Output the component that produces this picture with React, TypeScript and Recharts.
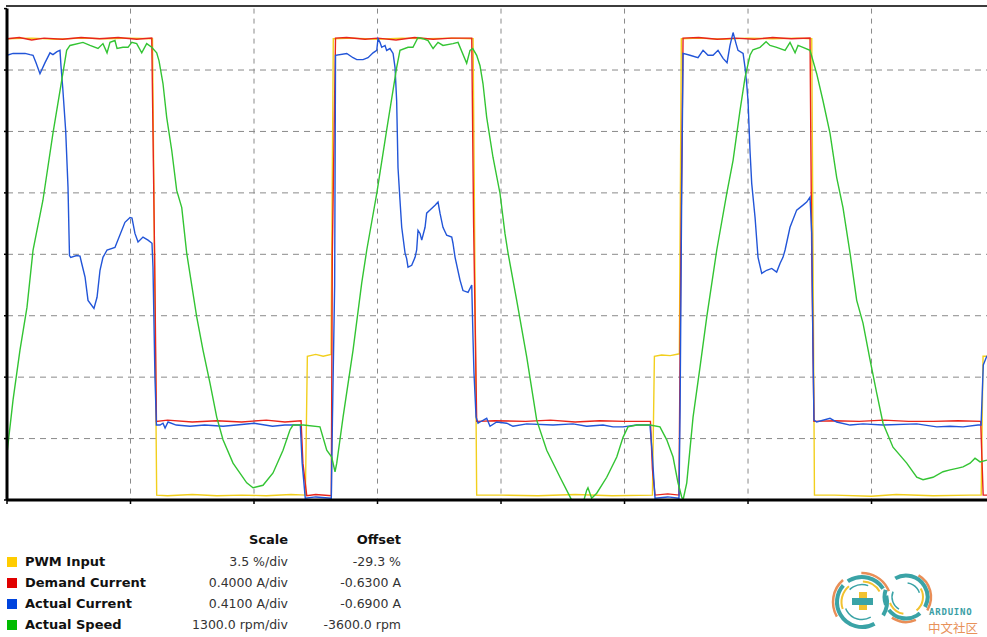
import React from 'react';
import { LineChart, Line, XAxis, YAxis, CartesianGrid } from 'recharts';

// time in 1/100 division units, value in divisions
const pwmInput: [number, number][] = [
  [0, 7.51], [20, 7.52], [40, 7.5], [60, 7.52], [80, 7.51], [100, 7.52], [117.8, 7.51],
  [121.2, 0.08], [130, 0.07], [150, 0.09], [170, 0.07], [190, 0.08], [210, 0.07], [230, 0.09], [241.6, 0.08],
  [243.2, 2.34], [250, 2.37], [256, 2.34], [262.4, 2.37],
  [264.2, 7.51], [280, 7.52], [300, 7.5], [320, 7.52], [340, 7.51], [360, 7.52], [377.4, 7.51],
  [380.3, 0.08], [400, 0.08], [430, 0.07], [460, 0.09], [490, 0.07], [522.6, 0.08],
  [524.2, 2.34], [530, 2.36], [537, 2.35], [544.4, 2.38],
  [546.0, 7.51], [560, 7.52], [580, 7.5], [600, 7.52], [620, 7.51], [640, 7.52], [651.6, 7.51],
  [653.8, 0.08], [670, 0.08], [700, 0.06], [720, 0.09], [750, 0.07], [780, 0.08], [788.8, 0.08],
  [790.3, 2.34], [793.5, 2.34],
];

const demandCurrent: [number, number][] = [
  [0, 7.51], [10, 7.53], [20, 7.49], [30, 7.52], [45, 7.5], [60, 7.53], [75, 7.51], [90, 7.53], [105, 7.5], [117.2, 7.52],
  [119.5, 4.0], [121.0, 1.28],
  [130, 1.3], [150, 1.27], [170, 1.29], [190, 1.27], [210, 1.3], [225, 1.27], [238.1, 1.29],
  [239.6, 0.6], [242.7, 0.07], [250, 0.09], [262.6, 0.07],
  [263.4, 4.0], [266.0, 7.52],
  [275, 7.53], [290, 7.5], [300, 7.52], [315, 7.49], [330, 7.53], [345, 7.5], [360, 7.52], [376.3, 7.52],
  [377.8, 4.5], [380.3, 1.28],
  [395, 1.29], [420, 1.28], [440, 1.3], [460, 1.27], [480, 1.29], [500, 1.28], [521.0, 1.28],
  [522.6, 0.5], [524.7, 0.08], [535, 0.1], [544.1, 0.08],
  [545.6, 4.0], [547.4, 7.52],
  [560, 7.53], [575, 7.5], [590, 7.52], [605, 7.5], [620, 7.53], [635, 7.51], [650.2, 7.52],
  [651.6, 4.0], [653.4, 1.28],
  [670, 1.29], [690, 1.28], [710, 1.3], [730, 1.28], [750, 1.28], [770, 1.29], [788.4, 1.28],
  [790.4, 0.08], [793.5, 0.08],
];

const actualCurrent: [number, number][] = [
  [0, 7.24], [4.9, 7.27], [14.6, 7.27], [18.6, 7.25], [21.1, 7.24], [23.5, 7.12], [26.7, 6.94], [30.8, 7.12],
  [34.8, 7.28], [37.2, 7.25], [40.5, 7.3], [42.9, 7.32], [43.7, 7.07], [45.1, 6.72], [47.5, 6.02], [49.4, 5.09],
  [50.2, 4.34], [50.6, 3.98], [51.6, 3.95], [56.4, 3.98], [59.1, 3.97], [60.5, 3.85], [63.2, 3.63], [65.6, 3.25],
  [70.4, 3.12], [72.9, 3.3], [75.3, 3.74], [77.7, 3.95], [81.0, 4.07], [87.4, 4.11], [95.5, 4.52], [99.6, 4.6],
  [101.2, 4.59], [103.6, 4.34], [106.1, 4.2], [110.1, 4.28], [114.2, 4.23], [117.4, 4.18], [118.2, 3.79], [119.8, 2.0],
  [121.0, 1.22], [123.9, 1.22], [126.3, 1.25], [128.0, 1.17], [130.4, 1.27], [137, 1.22], [148.2, 1.2], [160, 1.22],
  [175, 1.2], [190, 1.23], [200, 1.25], [215, 1.2], [225, 1.22], [237.5, 1.22], [239.0, 0.6], [241.5, 0.03],
  [250, 0.05], [262.6, 0.03], [263.5, 1.3], [265.3, 3.5], [266.0, 7.24], [275.1, 7.27], [280.2, 7.2], [283.2, 7.17],
  [288.3, 7.17], [292.3, 7.2], [296.4, 7.28], [299.4, 7.32], [300.4, 7.51], [302.0, 7.45], [303.4, 7.37], [306.1, 7.4],
  [307.4, 7.32], [310.1, 7.35], [312.6, 7.27], [314.2, 7.04], [315.5, 6.5], [316.6, 5.41], [318.2, 4.88], [319.6, 4.44],
  [322.3, 4.02], [323.6, 3.93], [324.7, 3.79], [327.7, 3.82], [330.4, 3.95], [331.7, 4.07], [332.8, 4.39], [334.4, 4.34],
  [335.8, 4.23], [338.5, 4.44], [339.8, 4.67], [342.5, 4.72], [346.6, 4.8], [349.0, 4.85], [350.6, 4.67], [353.0, 4.44],
  [356.0, 4.31], [360.1, 4.28], [361.1, 4.18], [362.8, 3.95], [366.8, 3.58], [369.2, 3.41], [373.3, 3.38], [376.3, 3.5],
  [377.3, 2.65], [378.1, 2.07], [379.8, 1.35], [381.4, 1.25], [383.0, 1.27], [388.4, 1.33], [391.1, 1.2], [396.5, 1.27],
  [404.6, 1.25], [409.7, 1.2], [420.8, 1.24], [442.1, 1.22], [458.3, 1.24], [469.4, 1.2], [482.6, 1.22], [490.7, 1.19],
  [498.8, 1.19], [509.9, 1.22], [520.6, 1.22], [522.3, 0.8], [524.7, 0.03], [535, 0.05], [544.1, 0.03], [545.0, 1.5],
  [546.3, 5.0], [547.4, 7.27], [553.0, 7.24], [559.5, 7.2], [563.6, 7.32], [567.6, 7.24], [571.7, 7.24], [575.7, 7.32],
  [579.8, 7.19], [583.0, 7.12], [585.4, 7.4], [587.9, 7.61], [590.3, 7.43], [591.9, 7.32], [596.0, 7.27], [597.6, 7.04],
  [598.9, 6.78], [600.0, 6.5], [601.6, 5.69], [603.0, 5.15], [605.7, 4.6], [608.1, 3.95], [611.1, 3.69], [615.1, 3.74],
  [619.2, 3.77], [623.2, 3.71], [625.9, 3.85], [628.3, 3.95], [630.0, 4.07], [634.0, 4.44], [639.4, 4.72], [644.5, 4.8],
  [647.5, 4.85], [650.2, 4.93], [651.6, 4.34], [652.6, 2.44], [653.4, 1.3], [655.6, 1.27], [666.4, 1.33], [671.8, 1.27],
  [682.6, 1.22], [693.1, 1.24], [709.3, 1.22], [736.6, 1.24], [752.8, 1.19], [763.6, 1.2], [774.1, 1.19], [786.2, 1.22],
  [788.7, 1.22], [790.5, 2.2], [793.5, 2.35],
];

const actualSpeed: [number, number][] = [
  [0, 0.76], [4.9, 1.63], [10.5, 2.44], [16.2, 3.14], [21.1, 4.07], [29.1, 4.88], [37.2, 5.97], [44.3, 6.83],
  [48.3, 7.32], [51.0, 7.4], [61.5, 7.45], [67.2, 7.4], [73.7, 7.35], [77.7, 7.43], [81.0, 7.28], [83.4, 7.45],
  [87.4, 7.48], [89.1, 7.35], [93.9, 7.37], [98.0, 7.37], [101.0, 7.45], [105.0, 7.43], [109.1, 7.28], [113.1, 7.43],
  [117.2, 7.37], [121.2, 7.28], [123.1, 7.15], [126.3, 6.78], [129.3, 6.23], [133.4, 5.69], [137.4, 5.04], [141.5, 4.76],
  [145.5, 4.02], [153.6, 2.98], [158.7, 2.44], [164.4, 1.9], [169.8, 1.35], [174.9, 0.98], [183.0, 0.6], [194.1, 0.28],
  [199.2, 0.2], [207.3, 0.24], [215.4, 0.44], [223.5, 0.81], [229.1, 1.14], [231.6, 1.22], [240, 1.22], [253.4, 1.19],
  [258.9, 0.81], [262.9, 0.7], [265.6, 0.46], [267.0, 0.6], [272.1, 1.35], [280.2, 2.44], [287.2, 3.53], [291.3, 4.07],
  [299.4, 4.99], [307.4, 6.02], [315.5, 7.04], [318.2, 7.32], [324.7, 7.37], [328.7, 7.37], [332.8, 7.53], [336.8, 7.51],
  [340.9, 7.48], [345.0, 7.35], [349.0, 7.45], [353.0, 7.4], [361.1, 7.43], [365.2, 7.45], [372.2, 7.11], [374.9, 7.32],
  [377.1, 7.35], [380.3, 7.24], [383.0, 7.07], [385.4, 6.78], [388.4, 6.23], [393.5, 5.58], [399.2, 4.99], [403.2, 4.34],
  [405.7, 4.02], [412.7, 3.25], [420.8, 2.33], [428.9, 1.3], [437.0, 0.81], [447.8, 0.37], [455.9, 0.05], [459, -0.08],
  [466, -0.08], [469.4, 0.16], [470.4, 0.2], [473.4, 0.03], [477.5, 0.11], [485.6, 0.37], [493.7, 0.7], [498.8, 1.02],
  [502.8, 1.19], [510, 1.22], [520.6, 1.22], [528.7, 1.19], [534.2, 0.98], [539.3, 0.7], [543.3, 0.28], [546.3, 0.05],
  [547.4, 0.0], [550.4, 0.28], [555.5, 1.35], [561.1, 2.16], [566.6, 2.98], [574.7, 4.07], [582.8, 4.99], [587.9, 5.53],
  [593.5, 6.34], [597.6, 6.88], [601.6, 7.24], [604.0, 7.33], [609.7, 7.37], [614.6, 7.46], [617.8, 7.4], [623.2, 7.37],
  [630.0, 7.32], [634.0, 7.45], [638.1, 7.28], [640.5, 7.4], [644.5, 7.37], [650.2, 7.32], [655.6, 6.94], [660.7, 6.5],
  [666.4, 5.97], [671.8, 5.25], [676.9, 4.76], [682.6, 4.02], [688.0, 3.25], [693.1, 2.88], [698.8, 2.28], [704.2, 1.74],
  [709.3, 1.25], [717.4, 0.86], [728.5, 0.6], [736.6, 0.37], [741.7, 0.33], [749.8, 0.37], [757.9, 0.46], [763.6, 0.49],
  [770.0, 0.52], [774.1, 0.54], [779.8, 0.6], [783.8, 0.68], [787.9, 0.62], [793.5, 0.65],
];

const seriesNames = ['PWM Input', 'Demand Current', 'Actual Current', 'Actual Speed'];
const seriesColors = ['#f2cf1d', '#e8251c', '#2255d8', '#33c433'];
const swatchColors = ['#ffcc00', '#e00000', '#0044dd', '#00bb00'];
const scaleLabels = ['3.5 %/div', '0.4000 A/div', '0.4100 A/div', '1300.0 rpm/div'];
const offsetLabels = ['-29.3 %', '-0.6300 A', '-0.6900 A', '-3600.0 rpm'];
const xTicks = [0, 100, 200, 300, 400, 500, 600, 700];
const yTicks = [0, 1, 2, 3, 4, 5, 6, 7, 8];
const xGrid = [100, 200, 300, 400, 500, 600, 700];
const yGrid = [1, 2, 3, 4, 5, 6, 7];

const seriesData = [pwmInput, demandCurrent, actualCurrent, actualSpeed].map((s) =>
  s.map(([t, v]) => ({ t, v }))
);

const FONT = '"DejaVu Sans", Verdana, sans-serif';

function Logo() {
  const teal = '#3aa3a6';
  const orange = '#e98e57';
  const yellow = '#f2c230';
  return (
    <svg width={167} height={77} style={{ position: 'absolute', left: 820, top: 560 }}>
      <circle cx={42} cy={42} r={29} fill="none" stroke={orange} strokeWidth={2.5} strokeDasharray="40 20 35 200" transform="rotate(150 42 42)" />
      <circle cx={42} cy={42} r={25} fill="none" stroke={teal} strokeWidth={4} strokeDasharray="70 6 40 8 20 40" transform="rotate(60 42 42)" />
      <circle cx={42} cy={42} r={20.5} fill="none" stroke={yellow} strokeWidth={2} strokeDasharray="25 15 20 200" transform="rotate(160 42 42)" />
      <circle cx={42} cy={42} r={17.5} fill="none" stroke={teal} strokeWidth={1.5} strokeDasharray="30 20 20 200" transform="rotate(60 42 42)" />
      <circle cx={86} cy={37} r={25} fill="none" stroke={orange} strokeWidth={2.5} strokeDasharray="40 15 25 200" transform="rotate(-60 86 37)" />
      <circle cx={86} cy={37} r={21.5} fill="none" stroke={teal} strokeWidth={4} strokeDasharray="55 8 35 6 15 40" transform="rotate(240 86 37)" />
      <circle cx={86} cy={37} r={17} fill="none" stroke={yellow} strokeWidth={2} strokeDasharray="24 14 18 200" transform="rotate(-30 86 37)" />
      <circle cx={86} cy={37} r={14} fill="none" stroke={teal} strokeWidth={1.5} strokeDasharray="20 18 16 200" transform="rotate(120 86 37)" />
      <rect x={39} y={32} width={8} height={18} fill={yellow} />
      <rect x={32} y={38} width={21} height={7} fill={teal} />
      <text x={109} y={55} fontFamily='"DejaVu Sans Mono", monospace' fontWeight="bold" fontSize={9} letterSpacing={0.8} fill="#3a9ea5">ARDUINO</text>
      <text x={108} y={73} fontFamily='"Noto Sans CJK SC", sans-serif' fontSize={12.5} fill="#e8915a">中文社区</text>
    </svg>
  );
}

export default function App() {
  const rowY = [562, 583, 604, 625];
  return (
    <div style={{ position: 'fixed', left: 0, top: 0, width: 987, height: 637, background: '#fff', overflow: 'hidden', fontFamily: FONT }}>
      <div style={{ position: 'absolute', left: 6, top: 5, width: 981, height: 2, background: '#3c3c3c' }} />
      <div style={{ position: 'absolute', left: 0, top: 0, width: 987, height: 510 }}>
        <LineChart width={987} height={510} margin={{ top: 8.6, right: 0, bottom: 0, left: 0 }}>
          <CartesianGrid horizontal={true} vertical={false} horizontalValues={yGrid} stroke="#8a8a8a" strokeDasharray="6 5" strokeWidth={1} />
          <CartesianGrid horizontal={false} vertical={true} verticalValues={xGrid} stroke="#8a8a8a" strokeDasharray="5 5" strokeWidth={1} />
          <XAxis
            type="number"
            dataKey="t"
            domain={[0, 793.5]}
            ticks={xTicks}
            allowDataOverflow
            height={10}
            tickSize={4}
            tickLine={{ stroke: '#000', strokeWidth: 1.5 }}
            axisLine={{ stroke: '#000', strokeWidth: 3 }}
            tickFormatter={() => ''}
          />
          <YAxis
            type="number"
            domain={[0, 8]}
            ticks={yTicks}
            allowDataOverflow
            width={7}
            tickSize={3}
            tickLine={{ stroke: '#000', strokeWidth: 1.5 }}
            axisLine={{ stroke: '#000', strokeWidth: 3 }}
            tickFormatter={() => ''}
          />
          {seriesData.map((d, i) => (
            <Line
              key={seriesNames[i]}
              data={d}
              dataKey="v"
              name={seriesNames[i]}
              type="linear"
              stroke={seriesColors[i]}
              strokeWidth={1.4}
              dot={false}
              activeDot={false}
              isAnimationActive={false}
            />
          ))}
        </LineChart>
      </div>
      <div style={{ position: 'absolute', left: 150, width: 138, top: 531, textAlign: 'right', fontWeight: 'bold', fontSize: 13, lineHeight: '18px', color: '#111' }}>Scale</div>
      <div style={{ position: 'absolute', left: 290, width: 111, top: 531, textAlign: 'right', fontWeight: 'bold', fontSize: 13, lineHeight: '18px', color: '#111' }}>Offset</div>
      {seriesNames.map((n, i) => (
        <React.Fragment key={n}>
          <div style={{ position: 'absolute', left: 7, top: rowY[i] - 5, width: 10, height: 10, background: swatchColors[i] }} />
          <div style={{ position: 'absolute', left: 25, top: rowY[i] - 9, fontWeight: 'bold', fontSize: 13, lineHeight: '18px', color: '#111', whiteSpace: 'nowrap' }}>{n}</div>
          <div style={{ position: 'absolute', left: 150, width: 138, top: rowY[i] - 9, textAlign: 'right', fontSize: 12.5, lineHeight: '18px', color: '#333', whiteSpace: 'nowrap' }}>{scaleLabels[i]}</div>
          <div style={{ position: 'absolute', left: 290, width: 111, top: rowY[i] - 9, textAlign: 'right', fontSize: 12.5, lineHeight: '18px', color: '#333', whiteSpace: 'nowrap' }}>{offsetLabels[i]}</div>
        </React.Fragment>
      ))}
      <Logo />
    </div>
  );
}
